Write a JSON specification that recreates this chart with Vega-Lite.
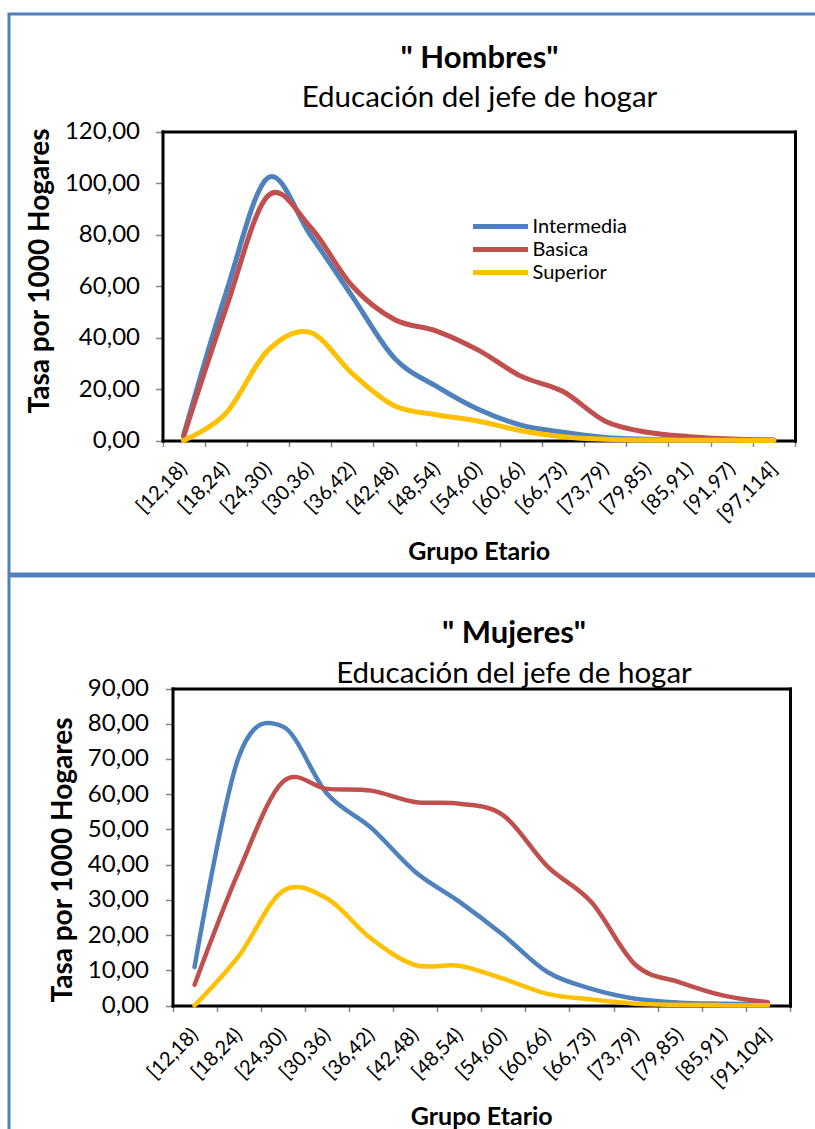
{
  "$schema": "https://vega.github.io/schema/vega-lite/v6.json",
  "background": "white",
  "padding": {"left": 0, "top": 12, "right": 0, "bottom": 0},
  "bounds": "flush",
  "spacing": 2,
  "config": {
    "font": "Lato",
    "view": {"stroke": "#4F81BD", "strokeWidth": 3},
    "axis": {"grid": false, "labelColor": "black", "titleColor": "black"}
  },
  "datasets": {
    "hombres": [
      {"g": "[12,18)", "s": "Intermedia", "v": 2}, {"g": "[18,24)", "s": "Intermedia", "v": 57}, {"g": "[24,30)", "s": "Intermedia", "v": 102}, {"g": "[30,36)", "s": "Intermedia", "v": 80}, {"g": "[36,42)", "s": "Intermedia", "v": 56}, {"g": "[42,48)", "s": "Intermedia", "v": 32}, {"g": "[48,54)", "s": "Intermedia", "v": 21}, {"g": "[54,60)", "s": "Intermedia", "v": 12}, {"g": "[60,66)", "s": "Intermedia", "v": 6}, {"g": "[66,73)", "s": "Intermedia", "v": 3.2}, {"g": "[73,79)", "s": "Intermedia", "v": 1.2}, {"g": "[79,85)", "s": "Intermedia", "v": 0.5}, {"g": "[85,91)", "s": "Intermedia", "v": 0.2}, {"g": "[91,97)", "s": "Intermedia", "v": 0.1}, {"g": "[97,114]", "s": "Intermedia", "v": 0.05},
      {"g": "[12,18)", "s": "Basica", "v": 1.5}, {"g": "[18,24)", "s": "Basica", "v": 51}, {"g": "[24,30)", "s": "Basica", "v": 95}, {"g": "[30,36)", "s": "Basica", "v": 83}, {"g": "[36,42)", "s": "Basica", "v": 60}, {"g": "[42,48)", "s": "Basica", "v": 47}, {"g": "[48,54)", "s": "Basica", "v": 42.5}, {"g": "[54,60)", "s": "Basica", "v": 35}, {"g": "[60,66)", "s": "Basica", "v": 25}, {"g": "[66,73)", "s": "Basica", "v": 19}, {"g": "[73,79)", "s": "Basica", "v": 7.5}, {"g": "[79,85)", "s": "Basica", "v": 3.2}, {"g": "[85,91)", "s": "Basica", "v": 1.5}, {"g": "[91,97)", "s": "Basica", "v": 0.6}, {"g": "[97,114]", "s": "Basica", "v": 0.2},
      {"g": "[12,18)", "s": "Superior", "v": 0}, {"g": "[18,24)", "s": "Superior", "v": 10.5}, {"g": "[24,30)", "s": "Superior", "v": 35}, {"g": "[30,36)", "s": "Superior", "v": 42}, {"g": "[36,42)", "s": "Superior", "v": 26}, {"g": "[42,48)", "s": "Superior", "v": 13.5}, {"g": "[48,54)", "s": "Superior", "v": 10}, {"g": "[54,60)", "s": "Superior", "v": 7.5}, {"g": "[60,66)", "s": "Superior", "v": 3.8}, {"g": "[66,73)", "s": "Superior", "v": 1.5}, {"g": "[73,79)", "s": "Superior", "v": 0.5}, {"g": "[79,85)", "s": "Superior", "v": 0.2}, {"g": "[85,91)", "s": "Superior", "v": 0.1}, {"g": "[91,97)", "s": "Superior", "v": 0.05}, {"g": "[97,114]", "s": "Superior", "v": 0}
    ],
    "mujeres": [
      {"g": "[12,18)", "s": "Intermedia", "v": 10.9}, {"g": "[18,24)", "s": "Intermedia", "v": 70.5}, {"g": "[24,30)", "s": "Intermedia", "v": 79.2}, {"g": "[30,36)", "s": "Intermedia", "v": 60.2}, {"g": "[36,42)", "s": "Intermedia", "v": 50.5}, {"g": "[42,48)", "s": "Intermedia", "v": 38}, {"g": "[48,54)", "s": "Intermedia", "v": 29.5}, {"g": "[54,60)", "s": "Intermedia", "v": 20}, {"g": "[60,66)", "s": "Intermedia", "v": 9.5}, {"g": "[66,73)", "s": "Intermedia", "v": 4.7}, {"g": "[73,79)", "s": "Intermedia", "v": 1.9}, {"g": "[79,85)", "s": "Intermedia", "v": 0.8}, {"g": "[85,91)", "s": "Intermedia", "v": 0.5}, {"g": "[91,104]", "s": "Intermedia", "v": 0.3},
      {"g": "[12,18)", "s": "Basica", "v": 5.9}, {"g": "[18,24)", "s": "Basica", "v": 38}, {"g": "[24,30)", "s": "Basica", "v": 63.5}, {"g": "[30,36)", "s": "Basica", "v": 61.5}, {"g": "[36,42)", "s": "Basica", "v": 61}, {"g": "[42,48)", "s": "Basica", "v": 57.8}, {"g": "[48,54)", "s": "Basica", "v": 57.3}, {"g": "[54,60)", "s": "Basica", "v": 54}, {"g": "[60,66)", "s": "Basica", "v": 39.5}, {"g": "[66,73)", "s": "Basica", "v": 29.3}, {"g": "[73,79)", "s": "Basica", "v": 11.5}, {"g": "[79,85)", "s": "Basica", "v": 6.6}, {"g": "[85,91)", "s": "Basica", "v": 2.8}, {"g": "[91,104]", "s": "Basica", "v": 0.9},
      {"g": "[12,18)", "s": "Superior", "v": 0}, {"g": "[18,24)", "s": "Superior", "v": 14}, {"g": "[24,30)", "s": "Superior", "v": 32.5}, {"g": "[30,36)", "s": "Superior", "v": 30.4}, {"g": "[36,42)", "s": "Superior", "v": 19}, {"g": "[42,48)", "s": "Superior", "v": 11.5}, {"g": "[48,54)", "s": "Superior", "v": 11.3}, {"g": "[54,60)", "s": "Superior", "v": 7.6}, {"g": "[60,66)", "s": "Superior", "v": 3.3}, {"g": "[66,73)", "s": "Superior", "v": 1.7}, {"g": "[73,79)", "s": "Superior", "v": 0.5}, {"g": "[79,85)", "s": "Superior", "v": 0.2}, {"g": "[85,91)", "s": "Superior", "v": 0.1}, {"g": "[91,104]", "s": "Superior", "v": 0.05}
    ]
  },
  "vconcat": [
    {
      "width": 812,
      "height": 560,
      "data": {"name": "hombres"},
      "title": {
        "text": "\" Hombres\"",
        "subtitle": "Educación del jefe de hogar",
        "anchor": "middle",
        "frame": "group",
        "fontSize": 31,
        "fontWeight": "bold",
        "color": "black",
        "subtitleFontSize": 29.5,
        "subtitleColor": "black",
        "subtitlePadding": 9,
        "offset": -99,
        "dx": 64.5
      },
      "resolve": {"axis": {"x": "independent", "y": "independent"}},
      "layer": [
        {
          "mark": {"type": "line", "interpolate": "cardinal", "tension": 0, "strokeWidth": 5, "strokeCap": "round"},
          "encoding": {
            "x": {
              "field": "g", "type": "ordinal", "sort": null,
              "scale": {"type": "band", "domain": ["[12,18)", "[18,24)", "[24,30)", "[30,36)", "[36,42)", "[42,48)", "[48,54)", "[54,60)", "[60,66)", "[66,73)", "[73,79)", "[79,85)", "[85,91)", "[91,97)", "[97,114]"], "range": [153.5, 786], "paddingInner": 0, "paddingOuter": 0},
              "axis": {
                "orient": "bottom", "offset": -133.5, "tickBand": "extent", "labelAngle": -45, "labelAlign": "right", "labelBaseline": "middle",
                "labelFontSize": 20, "labelPadding": 19, "labelOverlap": false, "tickSize": 6, "tickColor": "#868686", "tickWidth": 1.5,
                "domainColor": "black", "domainWidth": 3, "domainCap": "square",
                "title": "Grupo Etario", "titleFontSize": 25, "titleFontWeight": "bold", "titlePadding": 14
              }
            },
            "y": {
              "field": "v", "type": "quantitative",
              "scale": {"domain": [0, 120], "range": [426.5, 117.5], "nice": false},
              "axis": {
                "orient": "left", "offset": -153.5, "values": [0, 20, 40, 60, 80, 100, 120],
                "labelExpr": "replace(format(datum.value, '.2f'), '.', ',')",
                "labelFontSize": 24, "labelPadding": 16, "tickSize": 7, "tickColor": "#868686", "tickWidth": 1.5,
                "domainColor": "black", "domainWidth": 3, "domainCap": "square",
                "title": "Tasa por 1000 Hogares", "titleFontSize": 28, "titleFontWeight": "bold",
                "titleAngle": 270, "titleAlign": "center", "titleBaseline": "middle", "titleX": -122, "titleY": 256.5
              }
            },
            "color": {
              "field": "s", "type": "nominal",
              "scale": {"domain": ["Intermedia", "Basica", "Superior"], "range": ["#4F81BD", "#C0504D", "#FFC000"]},
              "legend": {
                "orient": "none", "legendX": 461.5, "legendY": 201, "title": null, "padding": 0,
                "symbolType": "stroke", "symbolSize": 3025, "symbolStrokeWidth": 5, "clipHeight": 23, "rowPadding": 0,
                "labelFontSize": 20, "labelColor": "black", "labelOffset": 2
              }
            }
          }
        },
        {
          "mark": {"type": "line", "opacity": 0},
          "encoding": {
            "x": {"field": "g", "type": "ordinal", "sort": null, "axis": {"orient": "top", "offset": -117.5, "labels": false, "ticks": false, "title": null, "domainColor": "black", "domainWidth": 3, "domainCap": "square"}},
            "y": {"field": "v", "type": "quantitative", "axis": {"orient": "right", "offset": -26, "labels": false, "ticks": false, "title": null, "domainColor": "black", "domainWidth": 3, "domainCap": "square"}}
          }
        }
      ]
    },
    {
      "width": 812,
      "height": 560,
      "data": {"name": "mujeres"},
      "title": {
        "text": "\" Mujeres\"",
        "subtitle": "Educación del jefe de hogar",
        "anchor": "middle",
        "frame": "group",
        "fontSize": 31,
        "fontWeight": "bold",
        "color": "black",
        "subtitleFontSize": 29.5,
        "subtitlePadding": 10,
        "subtitleColor": "black",
        "offset": -113,
        "dx": 99
      },
      "resolve": {"axis": {"x": "independent", "y": "independent"}},
      "layer": [
        {
          "mark": {"type": "line", "interpolate": "cardinal", "tension": 0, "strokeWidth": 4.5, "strokeCap": "round"},
          "encoding": {
            "x": {
              "field": "g", "type": "ordinal", "sort": null,
              "scale": {"type": "band", "domain": ["[12,18)", "[18,24)", "[24,30)", "[30,36)", "[36,42)", "[42,48)", "[48,54)", "[54,60)", "[60,66)", "[66,73)", "[73,79)", "[79,85)", "[85,91)", "[91,104]"], "range": [163.5, 781], "paddingInner": 0, "paddingOuter": 0},
              "axis": {
                "orient": "bottom", "offset": -130.5, "tickBand": "extent", "labelAngle": -45, "labelAlign": "right", "labelBaseline": "middle",
                "labelFontSize": 20, "labelPadding": 20, "labelOverlap": false, "tickSize": 6, "tickColor": "#868686", "tickWidth": 1.5,
                "domainColor": "black", "domainWidth": 3, "domainCap": "square",
                "title": "Grupo Etario", "titleFontSize": 25, "titleFontWeight": "bold", "titlePadding": 13
              }
            },
            "y": {
              "field": "v", "type": "quantitative",
              "scale": {"domain": [0, 90], "range": [429.5, 112.5], "nice": false},
              "axis": {
                "orient": "left", "offset": -163.5, "values": [0, 10, 20, 30, 40, 50, 60, 70, 80, 90],
                "labelExpr": "replace(format(datum.value, '.2f'), '.', ',')",
                "labelFontSize": 24, "labelPadding": 17, "tickSize": 7, "tickColor": "#868686", "tickWidth": 1.5,
                "domainColor": "black", "domainWidth": 3, "domainCap": "square",
                "title": "Tasa por 1000 Hogares", "titleFontSize": 28, "titleFontWeight": "bold",
                "titleAngle": 270, "titleAlign": "center", "titleBaseline": "middle", "titleX": -109, "titleY": 283.5
              }
            },
            "color": {
              "field": "s", "type": "nominal",
              "scale": {"domain": ["Intermedia", "Basica", "Superior"], "range": ["#4F81BD", "#C0504D", "#FFC000"]},
              "legend": {
                "orient": "none", "legendX": 551.5, "legendY": 195, "title": null, "padding": 0,
                "symbolType": "stroke", "symbolSize": 2950, "symbolStrokeWidth": 5, "clipHeight": 25, "rowPadding": 0,
                "labelFontSize": 20, "labelColor": "black", "labelOffset": 2
              }
            }
          }
        },
        {
          "mark": {"type": "line", "opacity": 0},
          "encoding": {
            "x": {"field": "g", "type": "ordinal", "sort": null, "axis": {"orient": "top", "offset": -112.5, "labels": false, "ticks": false, "title": null, "domainColor": "black", "domainWidth": 3, "domainCap": "square"}},
            "y": {"field": "v", "type": "quantitative", "axis": {"orient": "right", "offset": -31, "labels": false, "ticks": false, "title": null, "domainColor": "black", "domainWidth": 3, "domainCap": "square"}}
          }
        }
      ]
    }
  ]
}
